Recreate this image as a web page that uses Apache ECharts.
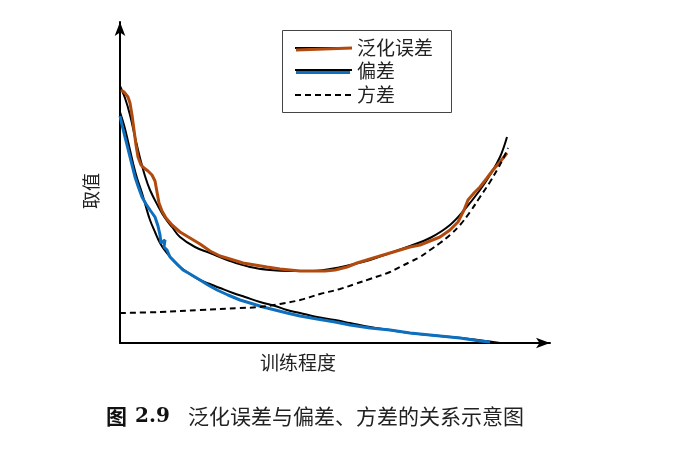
<!DOCTYPE html>
<html>
<head>
<meta charset="utf-8">
<script src="https://cdn.jsdelivr.net/npm/echarts@6/dist/echarts.min.js"></script>
<style>
html,body{margin:0;padding:0;background:#fff;}
#main{width:673px;height:470px;}
</style>
</head>
<body>
<div id="main"></div>
<script>
// Values (arbitrary units: x = training degree, y = value)
const genErrSmooth = [[0,257],[5,245],[10,228],[15,206],[20,185],[25,167],[30,153],[38,137],[45,125],[52,116],[60,106],[75,96],[90,90],[110,82],[130,76],[150,73],[170,72],[190,72],[210,74],[230,78],[250,83],[270,90],[290,97],[310,105],[330,118],[345,134],[360,153],[370,168],[380,186],[387,206]];
const genErrNoisy = [[1,253],[4,251],[8,246],[10,240],[12,228],[14,213],[16,198],[18,186],[21,178],[24,175],[28,172],[32,168],[35,162],[37,151],[39,140],[42,132],[46,125],[52,118],[60,111],[70,105],[80,99],[90,92],[100,87],[110,84],[123,80],[135,78],[147,76],[160,74],[170,73],[180,72],[193,72],[205,72],[215,73],[227,76],[237,80],[250,84],[260,87],[270,90],[280,93],[290,96],[300,98],[310,102],[320,106],[330,113],[338,121],[344,133],[348,143],[354,150],[360,156],[367,165],[373,173],[380,181],[387,190]];
const biasSmooth = [[0,231],[4,218],[7,206],[10,193],[13,180],[17,165],[22,150],[26,136],[30,123],[35,111],[40,100],[46,91],[53,83],[60,76],[70,69],[80,63],[90,59],[100,55],[113,50],[125,46],[140,41],[155,37],[167,33],[180,30],[197,26],[215,23],[230,20],[250,16],[270,13],[290,10],[320,7],[350,4],[380,0]];
const biasNoisy = [[0,227],[2,218],[5,206],[8,194],[10,186],[13,174],[15,166],[18,157],[22,146],[26,139],[30,133],[35,126],[38,117],[40,108],[41,100],[45,103],[44,96],[47,93],[50,86],[56,80],[63,73],[70,69],[80,63],[88,58],[97,53],[108,48],[120,43],[130,40],[143,36],[155,33],[167,30],[180,27],[197,24],[215,21],[230,18],[250,15],[270,13],[290,10],[320,7],[340,5],[360,2],[370,1]];
const variance = [[0,30],[40,31],[80,33],[120,35],[140,36],[160,39],[180,43],[200,49],[220,54],[235,59],[250,64],[270,71],[280,76],[290,81],[300,86],[310,93],[320,100],[330,108],[340,118],[350,131],[360,146],[370,161],[377,173],[383,184],[388,195]];
const legendNames = ['泛化误差','偏差','方差'];
const xName = '训练程度';
const yName = '取值';
const captionFig = '图';
const captionNum = '2.9';
const captionText = '泛化误差与偏差、方差的关系示意图';

const ORANGE = '#B04A0E';
const BLUE = '#0E6FBE';
const CJK = '"Noto Sans CJK SC", sans-serif';

const chart = echarts.init(document.getElementById('main'), null, {renderer:'canvas'});
const axisLine = {show:true, symbol:['none','arrow'], symbolSize:[8,14], lineStyle:{color:'#000', width:2}};
chart.setOption({
  animation:false,
  backgroundColor:'#fff',
  grid:{left:120, right:123, top:22, bottom:127},
  xAxis:{type:'value', min:0, max:430, axisLine:axisLine, axisTick:{show:false}, axisLabel:{show:false}, splitLine:{show:false}},
  yAxis:{type:'value', min:0, max:321, axisLine:axisLine, axisTick:{show:false}, axisLabel:{show:false}, splitLine:{show:false}},
  series:[
    {type:'line', data:genErrSmooth, smooth:0.4, showSymbol:false, lineStyle:{color:'#000', width:2}, z:2},
    {type:'line', data:biasSmooth, smooth:0.4, showSymbol:false, lineStyle:{color:'#000', width:2}, z:2},
    {type:'line', data:genErrNoisy, showSymbol:false, lineStyle:{color:ORANGE, width:3}, z:3},
    {type:'line', data:biasNoisy, showSymbol:false, lineStyle:{color:BLUE, width:3}, z:3},
    {type:'line', data:variance, smooth:0.4, showSymbol:false, lineStyle:{color:'#000', width:2, type:[6,4]}, z:4}
  ],
  graphic:[
    {type:'rect', shape:{x:282.5, y:30.5, width:169, height:82}, style:{fill:'#fff', stroke:'#444', lineWidth:1}, z:10},
    {type:'line', shape:{x1:295, y1:48, x2:352, y2:48}, style:{stroke:'#000', lineWidth:2}, z:11},
    {type:'line', shape:{x1:296, y1:50, x2:352, y2:48}, style:{stroke:ORANGE, lineWidth:3}, z:12},
    {type:'line', shape:{x1:295, y1:70, x2:352, y2:70}, style:{stroke:'#000', lineWidth:2}, z:11},
    {type:'line', shape:{x1:296, y1:72.5, x2:350, y2:72.5}, style:{stroke:BLUE, lineWidth:3}, z:12},
    {type:'line', shape:{x1:295, y1:95, x2:352, y2:95}, style:{stroke:'#000', lineWidth:2, lineDash:[6,4]}, z:11},
    {type:'text', x:357, y:48, style:{text:legendNames[0], font:'19px '+CJK, fill:'#222', verticalAlign:'middle'}, z:12},
    {type:'text', x:357, y:71, style:{text:legendNames[1], font:'19px '+CJK, fill:'#222', verticalAlign:'middle'}, z:12},
    {type:'text', x:357, y:95, style:{text:legendNames[2], font:'19px '+CJK, fill:'#222', verticalAlign:'middle'}, z:12},
    {type:'text', x:298, y:363, style:{text:xName, font:'19px '+CJK, fill:'#222', align:'center', verticalAlign:'middle'}},
    {type:'text', x:91, y:191, rotation:Math.PI/2, style:{text:yName, font:'18px '+CJK, fill:'#222', align:'center', verticalAlign:'middle'}},
    {type:'text', x:106, y:416, style:{text:captionFig, font:'bold 21px '+CJK, fill:'#111', verticalAlign:'middle'}},
    {type:'text', x:135, y:417, style:{text:captionNum, font:'bold 20px "DejaVu Serif", serif', fill:'#111', verticalAlign:'middle'}},
    {type:'text', x:188, y:416, style:{text:captionText, font:'21px '+CJK, fill:'#222', verticalAlign:'middle'}}
  ]
});
</script>
</body>
</html>
